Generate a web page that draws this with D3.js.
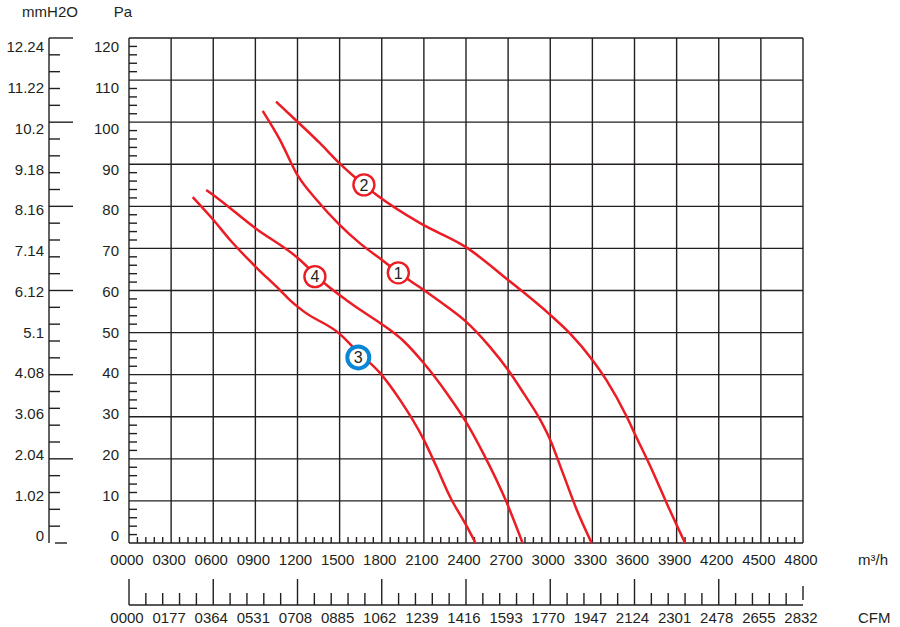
<!DOCTYPE html>
<html>
<head>
    <meta charset="utf-8">
    <title>Fan performance curves</title>
    <script src="https://cdn.jsdelivr.net/npm/d3@7"></script>
    <style>
        body { margin: 0; background: #fff; }
        svg text { font-family: "Liberation Sans", Arial, sans-serif; fill: #231f20; font-size: 15px; }
    </style>
</head>
<body>
    <svg id="chart" width="900" height="627"></svg>

    <script>
        // tick labels
        var flowTicks = [0, 300, 600, 900, 1200, 1500, 1800, 2100, 2400, 2700, 3000, 3300, 3600, 3900, 4200, 4500, 4800];
        var cfmLabels = ["0000", "0177", "0364", "0531", "0708", "0885", "1062", "1239", "1416",
                         "1593", "1770", "1947", "2124", "2301", "2478", "2655", "2832"];
        var paTicks = [0, 10, 20, 30, 40, 50, 60, 70, 80, 90, 100, 110, 120];
        var mmLabels = ["0", "1.02", "2.04", "3.06", "4.08", "5.1", "6.12", "7.14", "8.16", "9.18", "10.2", "11.22", "12.24"];

        // curves: [m3/h, Pa]
        var curve1 = [[952, 102.7], [1075, 95.8], [1200, 87.4], [1337, 81.5], [1500, 75.6], [1645, 71.2],
                      [1800, 67.3], [1920, 64.2], [2100, 60.1], [2263, 56.2], [2400, 52.6], [2570, 46.6],
                      [2700, 41.1], [2810, 35.6], [2930, 29.2], [3000, 24.5], [3090, 16.6], [3190, 7.8], [3295, 0]];
        var curve2 = [[1047, 104.9], [1200, 100.1], [1360, 95.0], [1500, 90.2], [1673, 85.1], [1764, 82.7],
                      [2073, 76.0], [2400, 70.3], [2700, 62.5], [3000, 54.2], [3140, 49.8], [3300, 43.5],
                      [3400, 38.7], [3545, 30.0], [3600, 26.1], [3735, 16.6], [3830, 9.4], [3960, 0]];
        var curve3 = [[453, 82.2], [600, 76.8], [720, 72.0], [900, 65.7], [1075, 60.1], [1150, 57.6],
                      [1241, 55.1], [1500, 49.7], [1633, 45.3], [1790, 40.3], [1930, 34.0], [2100, 24.5],
                      [2190, 18.1], [2286, 11.0], [2400, 4.3], [2468, 0]];
        var curve4 = [[550, 83.9], [600, 82.7], [900, 74.8], [1200, 67.8], [1407, 61.3], [1549, 57.7],
                      [1665, 55.0], [1800, 52.0], [1955, 48.0], [2100, 42.7], [2263, 35.6], [2400, 28.8],
                      [2523, 21.3], [2690, 9.6], [2803, 0]];
        var curves = [curve1, curve2, curve3, curve4];

        // numbered markers on the curves
        var markerLabels = ["1", "2", "3", "4"];
        var markerFlow = [1918, 1673, 1633, 1324];
        var markerPa = [64.2, 85.1, 44.1, 63.3];

        var svg = d3.select("#chart");
        var red = "#ec1c24", blue = "#0a86d6", ink = "#231f20";

        var x = d3.scaleLinear().domain([0, 4800]).range([129, 803]);
        var y = d3.scaleLinear().domain([0, 120]).range([543, 38]);
        // the printed labels sit on a slightly tighter spacing than the grid
        var yLabel = d3.scaleLinear().domain([0, 120]).range([536, 47]);

        // grid
        var grid = svg.append("g")
                      .attr("stroke", ink)
                      .attr("stroke-width", 1.4);

        grid.selectAll(".vgrid")
            .data(flowTicks)
            .enter().append("line")
            .attr("x1", function(d) { return x(d); })
            .attr("x2", function(d) { return x(d); })
            .attr("y1", y(0))
            .attr("y2", y(120));

        grid.selectAll(".hgrid")
            .data(paTicks)
            .enter().append("line")
            .attr("x1", x(0))
            .attr("x2", x(4800))
            .attr("y1", function(d) { return y(d); })
            .attr("y2", function(d) { return y(d); });

        // minor ticks inside the frame
        var paMinor = d3.range(0, 120, 2).filter(function(d) { return d % 10 !== 0; });
        grid.selectAll(".paminor")
            .data(paMinor)
            .enter().append("line")
            .attr("x1", x(0))
            .attr("x2", x(0) + 8)
            .attr("y1", function(d) { return y(d); })
            .attr("y2", function(d) { return y(d); });

        var flowMinor = d3.range(0, 4800, 60).filter(function(d) { return d % 300 !== 0; });
        grid.selectAll(".flowminor")
            .data(flowMinor)
            .enter().append("line")
            .attr("x1", function(d) { return x(d); })
            .attr("x2", function(d) { return x(d); })
            .attr("y1", y(0))
            .attr("y2", y(0) - 6);

        // Pa labels
        svg.append("g").selectAll("text")
           .data(paTicks)
           .enter().append("text")
           .attr("x", 119)
           .attr("y", function(d) { return yLabel(d); })
           .attr("dy", "0.36em")
           .attr("text-anchor", "end")
           .text(function(d) { return d; });

        // mmH2O scale
        var mm = svg.append("g")
                    .attr("stroke", ink)
                    .attr("stroke-width", 1.4);

        mm.append("line")
          .attr("x1", 49).attr("x2", 49)
          .attr("y1", y(120)).attr("y2", y(0));

        mm.selectAll(".mmtick")
          .data(d3.range(4, 121, 4))
          .enter().append("line")
          .attr("x1", 49)
          .attr("x2", function(d) { return d % 20 === 0 ? 73 : 60; })
          .attr("y1", function(d) { return y(d); })
          .attr("y2", function(d) { return y(d); });

        mm.append("line")
          .attr("x1", 55).attr("x2", 67)
          .attr("y1", y(0)).attr("y2", y(0));

        svg.append("g").selectAll("text")
           .data(mmLabels)
           .enter().append("text")
           .attr("x", 44)
           .attr("y", function(d, i) { return yLabel(paTicks[i]); })
           .attr("dy", "0.36em")
           .attr("text-anchor", "end")
           .text(function(d) { return d; });

        svg.append("text").attr("x", 50).attr("y", 17).attr("text-anchor", "middle").text("mmH2O");
        svg.append("text").attr("x", 123).attr("y", 17).attr("text-anchor", "middle").text("Pa");

        // m3/h labels
        svg.append("g").selectAll("text")
           .data(flowTicks)
           .enter().append("text")
           .attr("x", function(d) { return x(d) - 2; })
           .attr("y", 565)
           .attr("text-anchor", "middle")
           .text(d3.format("04d"));
        svg.append("text").attr("x", 858).attr("y", 565).text("m³/h");

        // CFM scale
        var cfm = svg.append("g")
                     .attr("stroke", ink)
                     .attr("stroke-width", 1.4);

        cfm.append("line")
           .attr("x1", x(0)).attr("x2", x(4800))
           .attr("y1", 605).attr("y2", 605);

        cfm.selectAll(".cfmtick")
           .data(d3.range(0, 4800, 120))
           .enter().append("line")
           .attr("x1", function(d) { return x(d); })
           .attr("x2", function(d) { return x(d); })
           .attr("y1", function(d) { return d % 600 === 0 ? 579 : 593; })
           .attr("y2", 605);

        cfm.append("line")
           .attr("x1", x(4800)).attr("x2", x(4800))
           .attr("y1", 586).attr("y2", 600);

        svg.append("g").selectAll("text")
           .data(cfmLabels)
           .enter().append("text")
           .attr("x", function(d, i) { return x(flowTicks[i]) - 2; })
           .attr("y", 623)
           .attr("text-anchor", "middle")
           .text(function(d) { return d; });
        svg.append("text").attr("x", 858).attr("y", 623).text("CFM");

        // curves
        var line = d3.line()
                     .x(function(d) { return x(d[0]); })
                     .y(function(d) { return y(d[1]); })
                     .curve(d3.curveMonotoneX);

        svg.append("g").selectAll("path")
           .data(curves)
           .enter().append("path")
           .attr("d", line)
           .attr("fill", "none")
           .attr("stroke", red)
           .attr("stroke-width", 2.5);

        // markers
        var marker = svg.append("g").selectAll("g")
                        .data(markerLabels)
                        .enter().append("g")
                        .attr("transform", function(d, i) {
                            return "translate(" + x(markerFlow[i]) + "," + y(markerPa[i]) + ")";
                        });

        marker.append("circle")
              .attr("r", function(d) { return d === "3" ? 11 : 10.5; })
              .attr("fill", "#fff")
              .attr("stroke", function(d) { return d === "3" ? blue : red; })
              .attr("stroke-width", function(d) { return d === "3" ? 4 : 2.4; });

        marker.append("text")
              .attr("text-anchor", "middle")
              .attr("dy", "0.36em")
              .style("font-size", "16px")
              .text(function(d) { return d; });
    </script>
</body>
</html>
